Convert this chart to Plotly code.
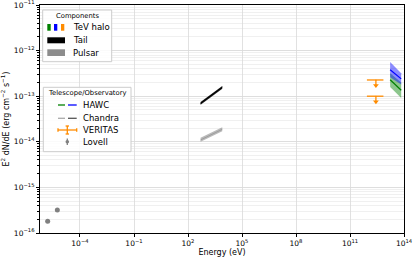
import numpy as np
import plotly.graph_objects as go

# ---------------- data ----------------
lovell_energy = [1.6e-6, 5.5e-6]
lovell_flux = [1.8e-16, 3.2e-16]
lovell_err = [0.15e-16, 0.25e-16]

chandra_energy = [5e2, 8e3]
tail_lo = [6.5e-14, 1.46e-13]
tail_hi = [7.5e-14, 1.68e-13]
tail_mid = [7.0e-14, 1.57e-13]
pulsar_lo = [1.0e-14, 1.7e-14]
pulsar_hi = [1.22e-14, 2.08e-14]
pulsar_mid = [1.1e-14, 1.88e-14]

hawc_energy = [1.7e13, 7e13]
hawc_blue_lo = [2.6e-13, 1.8e-13]
hawc_blue_hi = [5.6e-13, 3.2e-13]
hawc_blue_mid = [3.8e-13, 2.4e-13]
hawc_green_lo = [1.6e-13, 9.1e-14]
hawc_green_hi = [3.2e-13, 2.0e-13]
hawc_green_mid = [2.3e-13, 1.35e-13]

veritas_energy = [2.75e12, 2.75e12]
veritas_emin = [8.7e11, 8.7e11]
veritas_emax = [7.2e12, 7.2e12]
veritas_ul = [2.27e-13, 1.0e-13]

x_tick_exp = [-4, -1, 2, 5, 8, 11, 14]
y_tick_exp = [-16, -15, -14, -13, -12, -11]

# ---------------- styles ----------------
GREEN = "#008000"
BLUE = "#0000ff"
ORANGE = "#ff8c00"
FONT = "DejaVu Sans"

fig = go.Figure()


def band(x, lo, hi, mid, fill, line, lw):
    fig.add_trace(go.Scatter(x=x, y=lo, mode="lines", line=dict(width=0, color=fill),
                             showlegend=False, hoverinfo="skip"))
    fig.add_trace(go.Scatter(x=x, y=hi, mode="lines", line=dict(width=0, color=fill),
                             fill="tonexty", fillcolor=fill, showlegend=False, hoverinfo="skip"))
    fig.add_trace(go.Scatter(x=x, y=mid, mode="lines", line=dict(width=lw, color=line),
                             showlegend=False, hoverinfo="skip"))


band(chandra_energy, pulsar_lo, pulsar_hi, pulsar_mid, "rgba(128,128,128,0.55)", "rgba(150,150,150,0.8)", 1)
band(chandra_energy, tail_lo, tail_hi, tail_mid, "rgba(0,0,0,0.9)", "#000000", 1)
band(hawc_energy, hawc_green_lo, hawc_green_hi, hawc_green_mid, "rgba(0,128,0,0.45)", GREEN, 1.2)
band(hawc_energy, hawc_blue_lo, hawc_blue_hi, hawc_blue_mid, "rgba(0,0,255,0.45)", BLUE, 1.2)

# VERITAS upper limits
ve = np.array(veritas_energy)
ul = np.array(veritas_ul)
arrow_end = ul * 10 ** -0.12
fig.add_trace(go.Scatter(
    x=veritas_energy, y=veritas_ul, mode="markers",
    marker=dict(size=1, color=ORANGE),
    error_x=dict(type="data", symmetric=False,
                 array=list(np.array(veritas_emax) - ve),
                 arrayminus=list(ve - np.array(veritas_emin)),
                 color=ORANGE, thickness=1.3, width=0),
    error_y=dict(type="data", symmetric=False, array=[0, 0],
                 arrayminus=list(ul - arrow_end), color=ORANGE, thickness=1.3, width=0),
    showlegend=False, hoverinfo="skip"))
fig.add_trace(go.Scatter(x=veritas_energy, y=list(arrow_end), mode="markers",
                         marker=dict(symbol="triangle-down", size=5, color=ORANGE),
                         showlegend=False, hoverinfo="skip"))

# Lovell
fig.add_trace(go.Scatter(
    x=lovell_energy, y=lovell_flux, mode="markers",
    marker=dict(size=5, color="#808080"),
    error_y=dict(type="data", array=lovell_err, color="#808080", thickness=1, width=0),
    showlegend=False, hoverinfo="skip"))

# ---------------- manual legends ----------------
L, R, T, B = 40, 404, 5, 233


def px(x):
    return (x - L) / (R - L)


def py(y):
    return (B - y) / (B - T)


shapes = []
annots = []


def rect(x0, y0, x1, y1, fill, line="rgba(0,0,0,0)", lw=0):
    shapes.append(dict(type="rect", xref="paper", yref="paper",
                       x0=px(x0), x1=px(x1), y0=py(y1), y1=py(y0),
                       fillcolor=fill, line=dict(color=line, width=lw), layer="above"))


def seg(x0, y0, x1, y1, color, lw=1.3):
    shapes.append(dict(type="line", xref="paper", yref="paper",
                       x0=px(x0), x1=px(x1), y0=py(y0), y1=py(y1),
                       line=dict(color=color, width=lw), layer="above"))


def text(x, y, s, size=8.5, anchor="left"):
    annots.append(dict(xref="paper", yref="paper", x=px(x), y=py(y), text=s,
                       showarrow=False, xanchor=anchor, yanchor="middle",
                       font=dict(family=FONT, size=size, color="#000000")))


# Components legend
rect(42.7, 10, 111.7, 61.7, "rgba(255,255,255,0.85)", "#cccccc", 1)
text(77.5, 15.7, "Components", 6.8, "center")
rect(47.3, 24, 50.7, 30.7, GREEN)
rect(54, 24, 57.3, 30.7, BLUE)
rect(61, 24, 64.3, 30.7, ORANGE)
text(70.5, 27.3, "TeV halo")
rect(47.3, 37.3, 65, 43.3, "#000000")
text(70.5, 40.3, "Tail")
rect(47.3, 49.3, 65, 56, "#8c8c8c")
text(70.5, 52.7, "Pulsar")

# Telescope legend
rect(43.3, 87.3, 131, 151.7, "rgba(255,255,255,0.85)", "#cccccc", 1)
text(87, 93.3, "Telescope/Observatory", 6.8, "center")
seg(58, 105, 65, 105, GREEN)
seg(68, 105, 76.7, 105, BLUE)
text(81, 105, "HAWC")
seg(58, 118.3, 65, 118.3, "#aaaaaa")
seg(68, 118.3, 76.7, 118.3, "#555555")
text(81, 118.3, "Chandra")
seg(58, 130, 76.7, 130, ORANGE)
seg(67.3, 126, 67.3, 134, ORANGE)
seg(58, 128.3, 58, 131.7, ORANGE)
seg(76.7, 128.3, 76.7, 131.7, ORANGE)
seg(65.6, 126, 69, 126, ORANGE)
seg(65.6, 134, 69, 134, ORANGE)
text(81, 130, "VERITAS")
seg(67.3, 138.5, 67.3, 145, "#808080")
shapes.append(dict(type="circle", xref="paper", yref="paper",
                   x0=px(65.5), x1=px(69.1), y0=py(143.5), y1=py(139.9),
                   fillcolor="#808080", line=dict(width=0), layer="above"))
text(81, 141.7, "Lovell")

fig.update_layout(
    width=415, height=260,
    margin=dict(l=L, r=415 - R, t=T, b=260 - B, autoexpand=False),
    paper_bgcolor="white", plot_bgcolor="white",
    font=dict(family=FONT, size=7, color="#000000"),
    shapes=shapes, annotations=annots,
    xaxis=dict(type="log", range=[np.log10(6e-7), 14],
               tickvals=[10.0 ** e for e in x_tick_exp],
               ticktext=["10<sup>%s</sup>" % str(e).replace("-", "−") for e in x_tick_exp],
               tickfont=dict(size=7.5), ticklabeloverflow="allow",
               showgrid=True, gridcolor="#d9d9d9", gridwidth=0.8,
               showline=True, mirror=True, linecolor="#000000", linewidth=1,
               ticks="outside", ticklen=3, tickcolor="#000000",
               title=dict(text="Energy (eV)", font=dict(size=8), standoff=2),
               zeroline=False, automargin=False),
    yaxis=dict(type="log", range=[-16, -11],
               tickvals=[10.0 ** e for e in y_tick_exp],
               ticktext=["10<sup>%s</sup>" % str(e).replace("-", "−") for e in y_tick_exp],
               tickfont=dict(size=7.5), ticklabeloverflow="allow",
               showgrid=True, gridcolor="#d9d9d9", gridwidth=0.8,
               minor=dict(dtick="D1", showgrid=True, gridcolor="#ececec", gridwidth=0.8,
                          ticks="outside", ticklen=2, tickcolor="#000000"),
               showline=True, mirror=True, linecolor="#000000", linewidth=1,
               ticks="outside", ticklen=3, tickcolor="#000000",
               title=dict(text="E<sup>2</sup> dN/dE (erg cm<sup>−2</sup> s<sup>−1</sup>)",
                          font=dict(size=8), standoff=3),
               zeroline=False, automargin=False),
)

fig.write_html("out.html", config={"displayModeBar": False, "staticPlot": True},
               post_script="document.body.style.margin='0';document.body.style.overflow='hidden';")
